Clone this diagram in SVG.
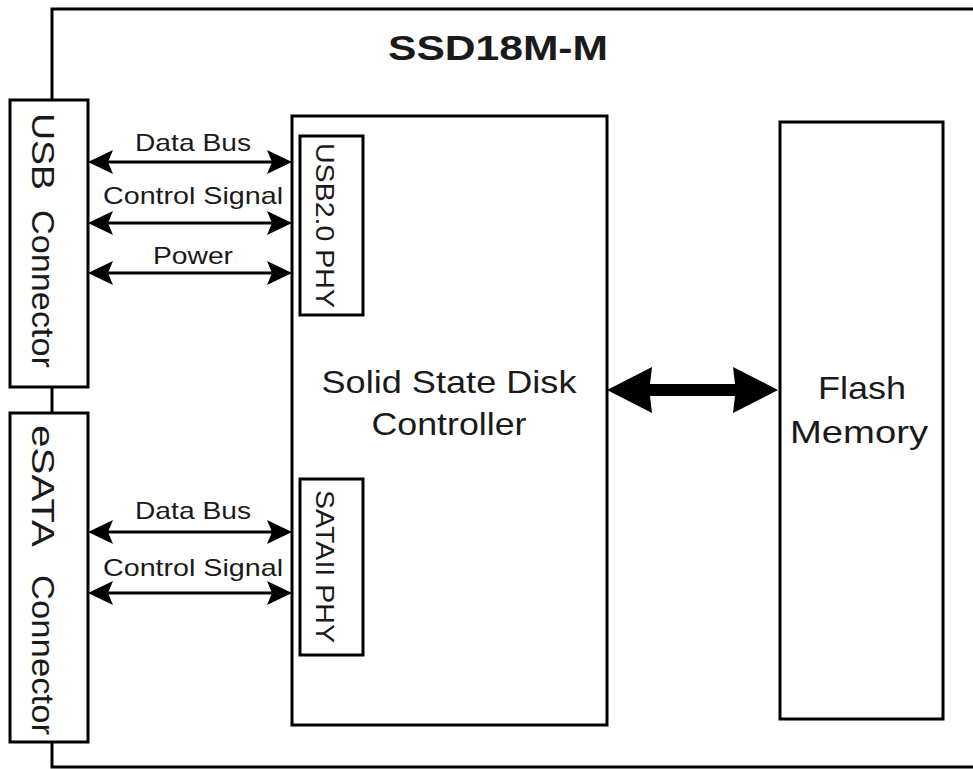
<svg xmlns="http://www.w3.org/2000/svg" width="973" height="769" viewBox="0 0 973 769">
<style>
.box{fill:#fff;stroke:#000;stroke-width:3}
.frame{fill:none;stroke:#000;stroke-width:3}
.t{font-family:"Liberation Sans",Arial,sans-serif;fill:#1a1a1a}
.lbl{font-size:24px;text-anchor:middle}
.bus{stroke:#000;stroke-width:3;fill:none;marker-start:url(#ah);marker-end:url(#ah)}
</style>
<defs>
<marker id="ah" viewBox="-22 -13 27 26" refX="0" refY="0" markerWidth="27" markerHeight="26" markerUnits="userSpaceOnUse" orient="auto-start-reverse">
<path d="M4,0 L-21,-12 L-16,0 L-21,12 Z" fill="#000"/>
</marker>
</defs>
<rect width="973" height="769" fill="#fff"/>
<g id="frame">
<path class="frame" d="M975,9 H52 V767 H975"/>
<text class="t" x="498" y="60" font-size="35" font-weight="bold" text-anchor="middle" textLength="220" lengthAdjust="spacingAndGlyphs">SSD18M-M</text>
</g>
<g id="usb-connector">
<rect class="box" x="10" y="100" width="78" height="287"/>
<text class="t" font-size="31" transform="translate(32,0) rotate(90)"><tspan x="113" y="0" textLength="77" lengthAdjust="spacingAndGlyphs">USB</tspan><tspan x="210" y="0" textLength="158" lengthAdjust="spacingAndGlyphs">Connector</tspan></text>
</g>
<g id="esata-connector">
<rect class="box" x="10" y="413" width="78" height="329"/>
<text class="t" font-size="31" transform="translate(32,0) rotate(90)"><tspan x="425" y="0" textLength="122" lengthAdjust="spacingAndGlyphs">eSATA</tspan><tspan x="575" y="0" textLength="160" lengthAdjust="spacingAndGlyphs">Connector</tspan></text>
</g>
<g id="controller">
<rect class="box" x="292" y="116" width="315" height="609"/>
<text class="t" x="449" y="393" font-size="32" text-anchor="middle" textLength="255" lengthAdjust="spacingAndGlyphs">Solid State Disk</text>
<text class="t" x="449" y="435" font-size="32" text-anchor="middle" textLength="155" lengthAdjust="spacingAndGlyphs">Controller</text>
</g>
<g id="usb-phy">
<rect class="box" x="300" y="136" width="63" height="179"/>
<text class="t" font-size="25" transform="translate(316,0) rotate(90)" x="143" y="0" textLength="165" lengthAdjust="spacingAndGlyphs">USB2.0 PHY</text>
</g>
<g id="sata-phy">
<rect class="box" x="300" y="479" width="63" height="176"/>
<text class="t" font-size="25" transform="translate(316,0) rotate(90)" x="490" y="0" textLength="153" lengthAdjust="spacingAndGlyphs">SATAII PHY</text>
</g>
<g id="flash">
<rect class="box" x="780" y="122" width="163" height="597"/>
<text class="t" x="862" y="399" font-size="32" text-anchor="middle" textLength="88" lengthAdjust="spacingAndGlyphs">Flash</text>
<text class="t" x="859" y="443" font-size="32" text-anchor="middle" textLength="138" lengthAdjust="spacingAndGlyphs">Memory</text>
</g>
<g id="connectors">
<line class="bus" x1="92" y1="162" x2="288" y2="162"/>
<line class="bus" x1="92" y1="223" x2="288" y2="223"/>
<line class="bus" x1="92" y1="273" x2="288" y2="273"/>
<line class="bus" x1="92" y1="532" x2="288" y2="532"/>
<line class="bus" x1="92" y1="593" x2="288" y2="593"/>
<polygon points="607,390 652,367 650,384 735,384 733,367 778,390 733,413 735,396 650,396 652,413" fill="#000"/>
<text class="t lbl" x="193" y="151" textLength="116" lengthAdjust="spacingAndGlyphs">Data Bus</text>
<text class="t lbl" x="193" y="204" textLength="180" lengthAdjust="spacingAndGlyphs">Control Signal</text>
<text class="t lbl" x="193" y="264" textLength="80" lengthAdjust="spacingAndGlyphs">Power</text>
<text class="t lbl" x="193" y="519" textLength="116" lengthAdjust="spacingAndGlyphs">Data Bus</text>
<text class="t lbl" x="193" y="576" textLength="180" lengthAdjust="spacingAndGlyphs">Control Signal</text>
</g>
</svg>
